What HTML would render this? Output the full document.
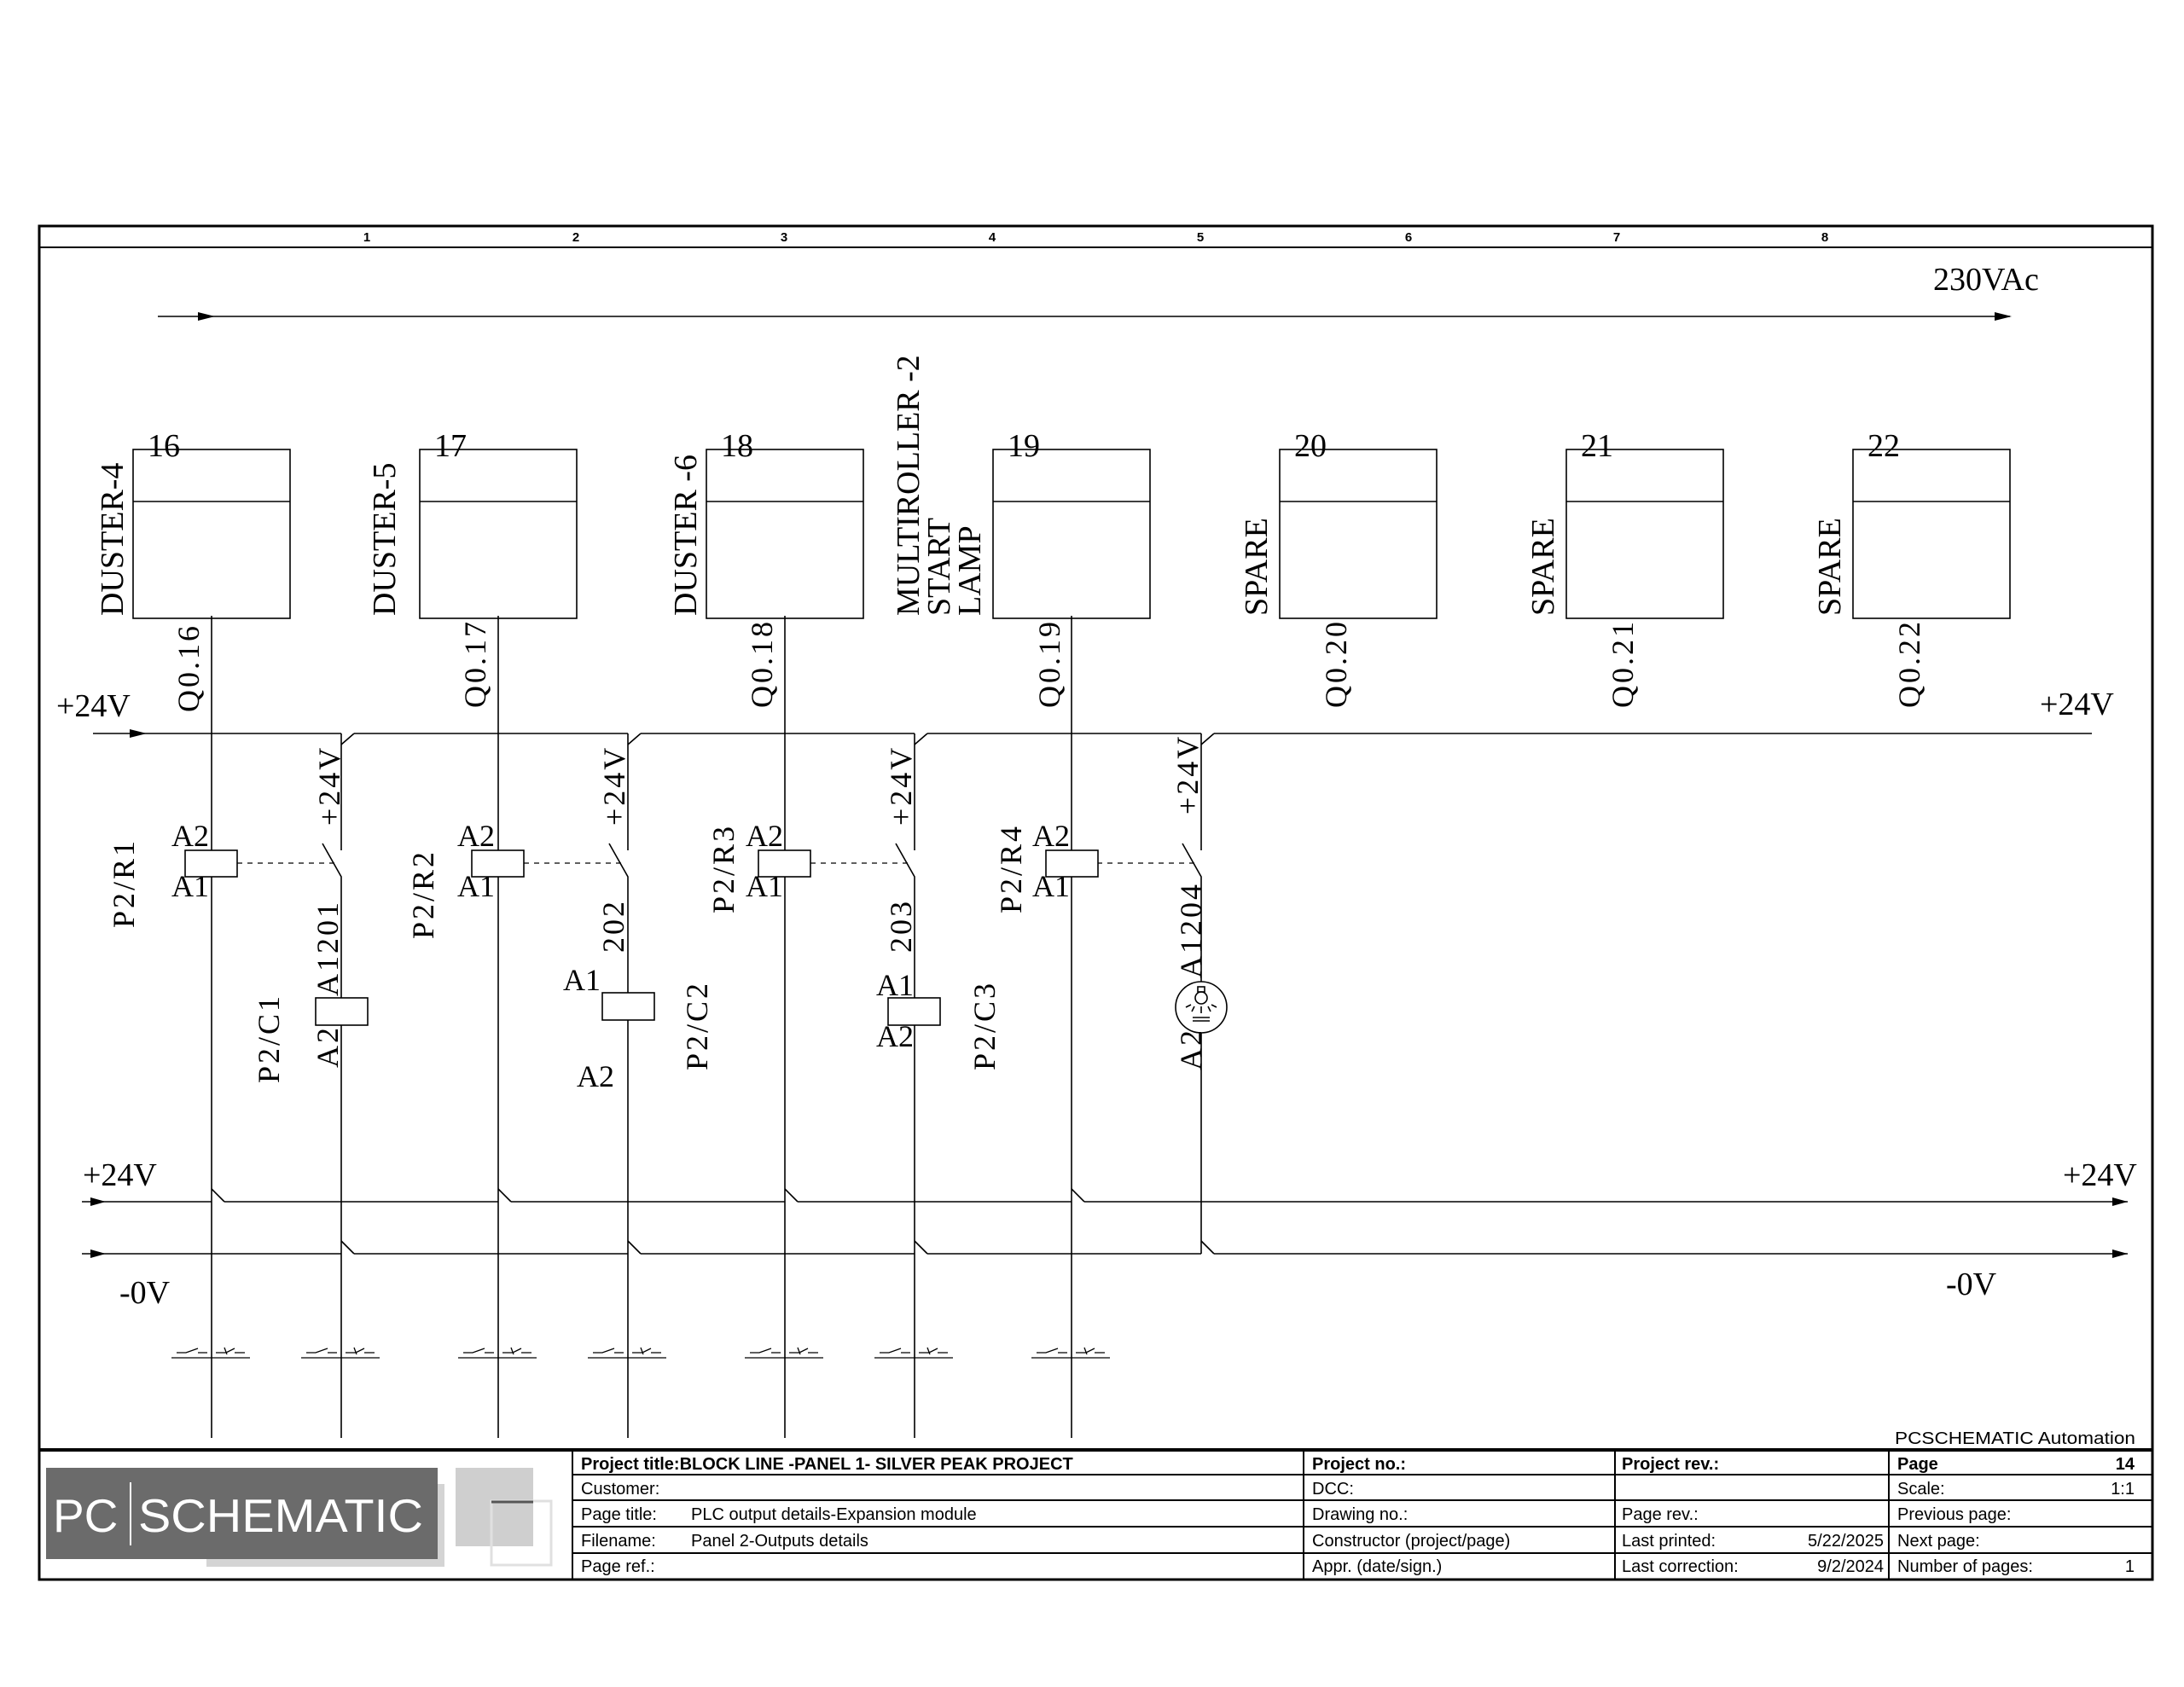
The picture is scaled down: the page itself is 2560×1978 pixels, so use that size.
<!DOCTYPE html>
<html><head><meta charset="utf-8"><style>
html,body{margin:0;padding:0;background:#fff}
svg{display:block}
.s{font-family:"Liberation Serif",serif;fill:#000}
.a{font-family:"Liberation Sans Narrow","Liberation Sans",sans-serif;fill:#000;font-size:20px}
</style></head><body>
<svg width="2560" height="1978" viewBox="0 0 2560 1978" xmlns="http://www.w3.org/2000/svg">
<g stroke="#000" fill="none">
<rect x="46" y="265" width="2477" height="1587" stroke-width="3"/>
<line x1="46" y1="290" x2="2523" y2="290" stroke-width="2"/>
<line x1="46" y1="1700" x2="2523" y2="1700" stroke-width="4"/>
<g stroke-width="2">
<line x1="671" y1="1700" x2="671" y2="1852"/>
<line x1="1528" y1="1700" x2="1528" y2="1852"/>
<line x1="1893" y1="1700" x2="1893" y2="1852"/>
<line x1="2214" y1="1700" x2="2214" y2="1852"/>
<line x1="671" y1="1729" x2="2523" y2="1729"/>
<line x1="671" y1="1759" x2="2523" y2="1759"/>
<line x1="671" y1="1790" x2="2523" y2="1790"/>
<line x1="671" y1="1821" x2="2523" y2="1821"/>
</g>
<g stroke-width="1.6">
<line x1="185" y1="371" x2="2356" y2="371"/>
<rect x="156" y="527" width="184" height="198"/><line x1="156" y1="588" x2="340" y2="588"/>
<rect x="492" y="527" width="184" height="198"/><line x1="492" y1="588" x2="676" y2="588"/>
<rect x="828" y="527" width="184" height="198"/><line x1="828" y1="588" x2="1012" y2="588"/>
<rect x="1164" y="527" width="184" height="198"/><line x1="1164" y1="588" x2="1348" y2="588"/>
<rect x="1500" y="527" width="184" height="198"/><line x1="1500" y1="588" x2="1684" y2="588"/>
<rect x="1836" y="527" width="184" height="198"/><line x1="1836" y1="588" x2="2020" y2="588"/>
<rect x="2172" y="527" width="184" height="198"/><line x1="2172" y1="588" x2="2356" y2="588"/>
<line x1="248" y1="722" x2="248" y2="1686"/>
<line x1="584" y1="722" x2="584" y2="1686"/>
<line x1="920" y1="722" x2="920" y2="1686"/>
<line x1="1256" y1="722" x2="1256" y2="1686"/>
<path d="M109 860H400M415 860H736M751 860H1072M1087 860H1408M1423 860H2452"/>
<path d="M400 873L415 860M736 873L751 860M1072 873L1087 860M1408 873L1423 860"/>
<path d="M96 1409H248M263 1409H584M599 1409H920M935 1409H1256M1271 1409H2494"/>
<path d="M248 1394L263 1409M584 1394L599 1409M920 1394L935 1409M1256 1394L1271 1409"/>
<path d="M96 1470H400M415 1470H736M751 1470H1072M1087 1470H1408M1423 1470H2494"/>
<path d="M400 1455L415 1470M736 1455L751 1470M1072 1455L1087 1470M1408 1455L1423 1470"/>
<path d="M400 860V997M378 989L400 1028V1686"/>
<path d="M736 860V997M714 989L736 1028V1686"/>
<path d="M1072 860V997M1050 989L1072 1028V1686"/>
<path d="M1408 860V997M1386 989L1408 1028V1151M1408 1211V1470"/>
<g stroke-dasharray="6,6" stroke-width="1.2">
<line x1="278" y1="1012" x2="396" y2="1012"/>
<line x1="614" y1="1012" x2="732" y2="1012"/>
<line x1="950" y1="1012" x2="1068" y2="1012"/>
<line x1="1286" y1="1012" x2="1404" y2="1012"/>
</g>
<g fill="#fff">
<rect x="217" y="997" width="61" height="31"/>
<rect x="553" y="997" width="61" height="31"/>
<rect x="889" y="997" width="61" height="31"/>
<rect x="1226" y="997" width="61" height="31"/>
<rect x="370" y="1170" width="61" height="32"/>
<rect x="706" y="1164" width="61" height="32"/>
<rect x="1041" y="1170" width="61" height="32"/>
<circle cx="1408" cy="1181" r="30"/>
</g>
<circle cx="1408" cy="1170" r="7"/>
<rect x="1404" y="1157" width="8" height="6"/>
<path d="M1396 1178L1390 1181M1400 1180L1397 1186M1408 1180V1188M1416 1180L1419 1186M1420 1178L1426 1181M1398 1193H1418M1398 1197H1418"/>
<g stroke-width="1.3">
<path id="t" d="M201 1592H293M207 1586H218L232 1581M232 1586H243M253 1586H265L275 1581M275 1586H287M263 1580L266 1588"/>
<use href="#t" x="152"/>
<use href="#t" x="336"/>
<use href="#t" x="488"/>
<use href="#t" x="672"/>
<use href="#t" x="824"/>
<use href="#t" x="1008"/>
</g>
</g>
</g>
<g fill="#000">
<path d="M232 366L252 371L232 376Z"/>
<path d="M2338 366L2358 371L2338 376Z"/>
<path d="M152 855L172 860L152 865Z"/>
<path d="M106 1404L124 1409L106 1414Z"/>
<path d="M106 1465L124 1470L106 1475Z"/>
<path d="M2476 1404L2494 1409L2476 1414Z"/>
<path d="M2476 1465L2494 1470L2476 1475Z"/>
</g>
<g font-family="Liberation Sans,sans-serif" font-weight="bold" font-size="15" text-anchor="middle">
<text x="430" y="283">1</text><text x="675" y="283">2</text><text x="919" y="283">3</text><text x="1163" y="283">4</text>
<text x="1407" y="283">5</text><text x="1651" y="283">6</text><text x="1895" y="283">7</text><text x="2139" y="283">8</text>
</g>
<g class="s" font-size="38">
<text x="2266" y="340">230VAc</text>
<text x="173" y="535">16</text><text x="509" y="535">17</text><text x="845" y="535">18</text><text x="1181" y="535">19</text>
<text x="1517" y="535">20</text><text x="1853" y="535">21</text><text x="2189" y="535">22</text>
<text x="66" y="840">+24V</text>
<text x="2391" y="838">+24V</text>
<text x="97" y="1390">+24V</text>
<text x="2418" y="1390">+24V</text>
<text x="140" y="1528">-0V</text>
<text x="2281" y="1518">-0V</text>
</g>
<g class="s" font-size="38">
<text transform="translate(144,722) rotate(-90)">DUSTER-4</text>
<text transform="translate(463,722) rotate(-90)">DUSTER-5</text>
<text transform="translate(816,722) rotate(-90)">DUSTER -6</text>
<text transform="translate(1077,722) rotate(-90)">MULTIROLLER -2</text>
<text transform="translate(1113,722) rotate(-90)">START</text>
<text transform="translate(1149,722) rotate(-90)">LAMP</text>
<text transform="translate(1485,722) rotate(-90)">SPARE</text>
<text transform="translate(1821,722) rotate(-90)">SPARE</text>
<text transform="translate(2157,722) rotate(-90)">SPARE</text>
</g>
<g class="s" font-size="36" letter-spacing="3">
<text transform="translate(233,835) rotate(-90)">Q0.16</text>
<text transform="translate(569,830) rotate(-90)">Q0.17</text>
<text transform="translate(905,830) rotate(-90)">Q0.18</text>
<text transform="translate(1242,830) rotate(-90)">Q0.19</text>
<text transform="translate(1578,830) rotate(-90)">Q0.20</text>
<text transform="translate(1914,830) rotate(-90)">Q0.21</text>
<text transform="translate(2250,830) rotate(-90)">Q0.22</text>
<text transform="translate(398,968) rotate(-90)">+24V</text>
<text transform="translate(732,968) rotate(-90)">+24V</text>
<text transform="translate(1068,968) rotate(-90)">+24V</text>
<text transform="translate(1404,955) rotate(-90)">+24V</text>
<text transform="translate(157,1088) rotate(-90)">P2/R1</text>
<text transform="translate(508,1101) rotate(-90)">P2/R2</text>
<text transform="translate(860,1071) rotate(-90)">P2/R3</text>
<text transform="translate(1197,1071) rotate(-90)">P2/R4</text>
<text transform="translate(327,1270) rotate(-90)">P2/C1</text>
<text transform="translate(829,1255) rotate(-90)">P2/C2</text>
<text transform="translate(1166,1255) rotate(-90)">P2/C3</text>
<text transform="translate(396,1168) rotate(-90)">A1201</text>
<text transform="translate(396,1252) rotate(-90)">A2</text>
<text transform="translate(731,1117) rotate(-90)">202</text>
<text transform="translate(1068,1117) rotate(-90)">203</text>
<text transform="translate(1408,1147) rotate(-90)">A1204</text>
<text transform="translate(1408,1255) rotate(-90)">A2</text>
</g>
<g class="s" font-size="36">
<text x="201" y="992">A2</text><text x="201" y="1051">A1</text>
<text x="536" y="992">A2</text><text x="536" y="1051">A1</text>
<text x="874" y="992">A2</text><text x="874" y="1051">A1</text>
<text x="1210" y="992">A2</text><text x="1210" y="1051">A1</text>
<text x="660" y="1161">A1</text><text x="676" y="1274">A2</text>
<text x="1027" y="1167">A1</text><text x="1027" y="1227">A2</text>
</g>
<rect x="242" y="1740" width="279" height="97" fill="#d4d4d4"/>
<rect x="534" y="1721" width="91" height="92" fill="#cfcfcf"/>
<rect x="54" y="1721" width="459" height="107" fill="#6b6b6b"/>
<rect x="576" y="1760" width="70" height="75" fill="none" stroke="#e0e0e0" stroke-width="3"/>
<line x1="576" y1="1761" x2="625" y2="1761" stroke="#555" stroke-width="3"/>
<line x1="153" y1="1738" x2="153" y2="1812" stroke="#fff" stroke-width="2"/>
<text x="62" y="1796" font-family="Liberation Sans,sans-serif" font-size="55" fill="#fff">PC</text>
<text x="162" y="1796" font-family="Liberation Sans,sans-serif" font-size="55" fill="#fff" textLength="334" lengthAdjust="spacingAndGlyphs">SCHEMATIC</text>
<g class="a">
<text x="2221" y="1693" textLength="282" lengthAdjust="spacingAndGlyphs">PCSCHEMATIC Automation</text>
<g font-weight="bold">
<text x="681" y="1723">Project title:BLOCK LINE -PANEL 1- SILVER PEAK PROJECT</text>
<text x="1538" y="1723">Project no.:</text>
<text x="1901" y="1723">Project rev.:</text>
<text x="2224" y="1723">Page</text>
<text x="2502" y="1723" text-anchor="end">14</text>
</g>
<text x="681" y="1752">Customer:</text>
<text x="1538" y="1752">DCC:</text>
<text x="2224" y="1752">Scale:</text>
<text x="2502" y="1752" text-anchor="end">1:1</text>
<text x="681" y="1782">Page title:</text>
<text x="810" y="1782">PLC  output details-Expansion module</text>
<text x="1538" y="1782">Drawing no.:</text>
<text x="1901" y="1782">Page rev.:</text>
<text x="2224" y="1782">Previous page:</text>
<text x="681" y="1813">Filename:</text>
<text x="810" y="1813">Panel 2-Outputs details</text>
<text x="1538" y="1813">Constructor (project/page)</text>
<text x="1901" y="1813">Last printed:</text>
<text x="2208" y="1813" text-anchor="end">5/22/2025</text>
<text x="2224" y="1813">Next page:</text>
<text x="681" y="1843">Page ref.:</text>
<text x="1538" y="1843">Appr. (date/sign.)</text>
<text x="1901" y="1843">Last correction:</text>
<text x="2208" y="1843" text-anchor="end">9/2/2024</text>
<text x="2224" y="1843">Number of pages:</text>
<text x="2502" y="1843" text-anchor="end">1</text>
</g>
</svg>
</body></html>
